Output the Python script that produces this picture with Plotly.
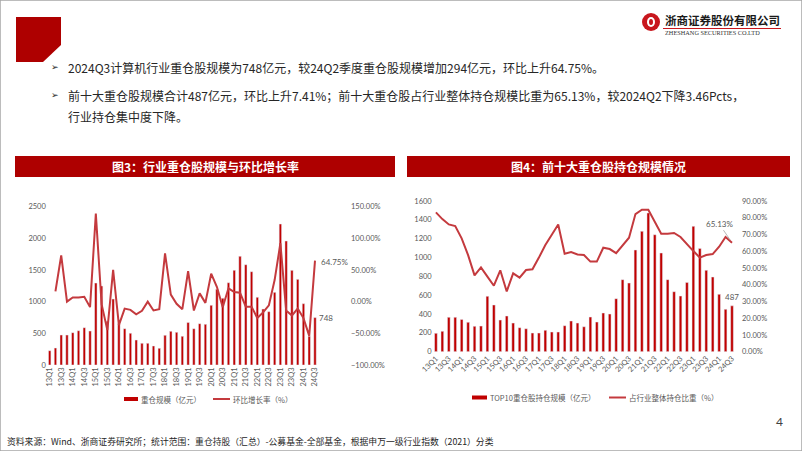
import plotly.graph_objects as go

W, H = 802, 451
def px(x): return x / W
def py(y): return 1 - y / H

quarters = ["13Q1","13Q2","13Q3","13Q4","14Q1","14Q2","14Q3","14Q4",
            "15Q1","15Q2","15Q3","15Q4","16Q1","16Q2","16Q3","16Q4",
            "17Q1","17Q2","17Q3","17Q4","18Q1","18Q2","18Q3","18Q4",
            "19Q1","19Q2","19Q3","19Q4","20Q1","20Q2","20Q3","20Q4",
            "21Q1","21Q2","21Q3","21Q4","22Q1","22Q2","22Q3","22Q4",
            "23Q1","23Q2","23Q3","23Q4","24Q1","24Q2","24Q3"]
tick_labels = quarters[::2]

# Fig 3: industry heavy-holding scale (亿元) and QoQ growth (%)
scale_total = [226,268,473,473,510,541,589,536,1293,1246,690,1041,650,573,500,394,
               342,342,300,263,468,531,515,452,670,573,652,641,941,1194,1052,1298,
               1493,1714,1582,1472,1068,883,841,1146,2224,1956,1493,1351,967,454,748]
growth_qoq = [None,16,73,0,6.5,6.5,7.6,-8.7,139,-4,-45,50,-37,-11,-13,-20,
              -14.6,0,-14,-12,76,11,-3.5,-12,48,-14,13,-2,44,23,-9,21,
              15,14,-8,-8,-26,-17,-6,34,92,-14,-22,-11,-26,-54,64.75]

# Fig 4: TOP10 holdings scale (亿元) and share of industry (%)
top10_scale = [195,216,365,365,343,312,269,272,588,496,336,379,304,255,244,198,
               198,227,209,209,276,326,304,265,368,315,411,400,563,765,729,1080,
               1278,1473,1242,1048,765,637,591,736,1331,1097,864,793,609,450,487]
top10_share = [83.2,79.2,76,75,67.7,57.7,45.6,50.4,44.8,39.4,48.6,36,46.8,44.2,48.8,49.2,
               56.2,63.7,69.9,76,58.5,59.5,58.1,57.7,53.8,53.8,62.1,61.3,58.9,63.7,68.1,82.2,
               84.8,84.8,77.7,70.5,70.5,70.9,68.5,64.1,60.1,56.2,57.7,58.3,62.7,68.5,65.13]

BAR = "#C00000"
LINE = "#C43A3E"
HEAD = "#AE0000"
TICK = "#595959"
CJK = "Noto Sans CJK SC"
NUM = "Lato"

fig = go.Figure()
fig.add_trace(go.Bar(x=quarters, y=scale_total, marker_color=BAR, name="重仓规模（亿元）",
                     xaxis="x", yaxis="y", showlegend=False))
fig.add_trace(go.Scatter(x=quarters, y=growth_qoq, mode="lines", line=dict(color=LINE, width=2),
                         name="环比增长率（%）", xaxis="x", yaxis="y2", showlegend=False))
fig.add_trace(go.Bar(x=quarters, y=top10_scale, marker_color=BAR, name="TOP10重仓股持仓规模（亿元）",
                     xaxis="x2", yaxis="y3", showlegend=False))
fig.add_trace(go.Scatter(x=quarters, y=top10_share, mode="lines", line=dict(color=LINE, width=2),
                         name="占行业整体持仓比重（%）", xaxis="x2", yaxis="y4", showlegend=False))

tf = dict(family=NUM, size=7.5, color=TICK)
common_x = dict(type="category", tickvals=tick_labels, showgrid=False, zeroline=False,
                showline=False, ticks="", tickfont=tf, automargin=False)
common_y = dict(showgrid=False, zeroline=False, showline=False, ticks="", tickfont=tf, automargin=False)

fig.update_layout(
    width=W, height=H, margin=dict(l=0, r=0, t=0, b=0),
    paper_bgcolor="white", plot_bgcolor="white", bargap=0.58,
    font=dict(family=CJK, color=TICK),
    xaxis=dict(common_x, domain=[px(46.8), px(350)], anchor="y", tickangle=-90),
    yaxis=dict(common_y, domain=[py(365), py(206.5)], anchor="x", range=[0, 2500], dtick=500),
    yaxis2=dict(common_y, overlaying="y", side="right", anchor="x", range=[-100, 150], dtick=50,
                tickformat=".2f", ticksuffix="%"),
    xaxis2=dict(common_x, domain=[px(432.7), px(741)], anchor="y3", tickangle=-45),
    yaxis3=dict(common_y, domain=[py(351.7), py(201)], anchor="x2", range=[0, 1600], dtick=200),
    yaxis4=dict(common_y, overlaying="y3", side="right", anchor="x2", range=[0, 90], dtick=10,
                tickformat=".2f", ticksuffix="%"),
)

shapes = []
ann = []
# slide border
shapes.append(dict(type="rect", xref="paper", yref="paper", x0=0, y0=0, x1=1, y1=1,
                   line=dict(color="#A6A6A6", width=1.5), fillcolor="rgba(0,0,0,0)"))
# red corner block
path = "M {} {} L {} {} L {} {} L {} {} L {} {} Z".format(
    px(16), py(17), px(61), py(17), px(61), py(45), px(43), py(62), px(16), py(62))
shapes.append(dict(type="path", xref="paper", yref="paper", path=path, fillcolor=HEAD, line=dict(width=0)))
# logo emblem
shapes.append(dict(type="circle", xref="paper", yref="paper", x0=px(642), x1=px(660), y0=py(31), y1=py(13),
                   fillcolor="#C8161D", line=dict(width=0)))
shapes.append(dict(type="circle", xref="paper", yref="paper", x0=px(647), x1=px(655), y0=py(27), y1=py(17),
                   fillcolor="white", line=dict(width=0)))
shapes.append(dict(type="circle", xref="paper", yref="paper", x0=px(649), x1=px(653), y0=py(25), y1=py(19),
                   fillcolor="#C8161D", line=dict(width=0)))
shapes.append(dict(type="line", xref="paper", yref="paper", x0=px(663), x1=px(781), y0=py(28.5), y1=py(28.5),
                   line=dict(color="#C8161D", width=1)))
ann.append(dict(x=px(663), y=py(20), xref="paper", yref="paper", xanchor="left", yanchor="middle",
                text="<b>浙商证券股份有限公司</b>", showarrow=False,
                font=dict(family=CJK, size=11.5, color="#1a1a1a")))
ann.append(dict(x=px(663), y=py(33), xref="paper", yref="paper", xanchor="left", yanchor="middle",
                text="ZHESHANG SECURITIES CO.LTD", showarrow=False,
                font=dict(family="Liberation Serif", size=6.3, color="#333333")))

# bullets
bullets = [
    (67, "2024Q3计算机行业重仓股规模为748亿元，较24Q2季度重仓股规模增加294亿元，环比上升64.75%。", True),
    (95, "前十大重仓股规模合计487亿元，环比上升7.41%；前十大重仓股占行业整体持仓规模比重为65.13%，较2024Q2下降3.46Pcts，", True),
    (117, "行业持仓集中度下降。", False),
]
for yy, t, mark in bullets:
    if mark:
        ann.append(dict(x=px(49), y=py(yy), xref="paper", yref="paper", xanchor="left", yanchor="middle",
                        text="➢", showarrow=False, font=dict(family="DejaVu Sans", size=9, color="#262626")))
    ann.append(dict(x=px(66), y=py(yy), xref="paper", yref="paper", xanchor="left", yanchor="middle",
                    text=t, showarrow=False, font=dict(family=CJK, size=12, color="#262626")))

# chart header bars
for x0, x1, t in [(15, 395, "图3：行业重仓股规模与环比增长率"), (407, 790, "图4：前十大重仓股持仓规模情况")]:
    shapes.append(dict(type="rect", xref="paper", yref="paper", x0=px(x0), x1=px(x1), y0=py(177), y1=py(156),
                       fillcolor=HEAD, line=dict(width=0)))
    ann.append(dict(x=px((x0 + x1) / 2), y=py(166.5), xref="paper", yref="paper", xanchor="center",
                    yanchor="middle", text="<b>" + t + "</b>", showarrow=False,
                    font=dict(family=CJK, size=12, color="white")))

# custom legends
lf = dict(family=CJK, size=7.5, color=TICK)
def legend_bar(x0, x1, y, text):
    shapes.append(dict(type="rect", xref="paper", yref="paper", x0=px(x0), x1=px(x1), y0=py(y + 2), y1=py(y - 2),
                       fillcolor=BAR, line=dict(width=0)))
    ann.append(dict(x=px(x1 + 1), y=py(y), xref="paper", yref="paper", xanchor="left", yanchor="middle",
                    text=text, showarrow=False, font=lf))
def legend_line(x0, x1, y, text):
    shapes.append(dict(type="line", xref="paper", yref="paper", x0=px(x0), x1=px(x1), y0=py(y), y1=py(y),
                       line=dict(color=LINE, width=2)))
    ann.append(dict(x=px(x1 + 1), y=py(y), xref="paper", yref="paper", xanchor="left", yanchor="middle",
                    text=text, showarrow=False, font=lf))
legend_bar(124, 138, 399, "重仓规模（亿元）")
legend_line(213, 230, 399, "环比增长率（%）")
legend_bar(472, 487, 397.5, "TOP10重仓股持仓规模（亿元）")
legend_line(609, 626, 397.5, "占行业整体持仓比重（%）")

# data labels
lab = dict(family=NUM, size=8, color=TICK)
ann.append(dict(x=quarters[-1], y=scale_total[-1], xref="x", yref="y", xanchor="left", yanchor="middle",
                xshift=2, text=str(scale_total[-1]), showarrow=False, font=lab))
ann.append(dict(x=quarters[-1], y=growth_qoq[-1], xref="x", yref="y2", xanchor="left", yanchor="middle",
                xshift=4, yshift=-1, text="{:.2f}%".format(growth_qoq[-1]), showarrow=False, font=lab))
ann.append(dict(x=quarters[-1], y=top10_scale[-1], xref="x2", yref="y3", xanchor="center", yanchor="bottom",
                yshift=2, text=str(top10_scale[-1]), showarrow=False, font=lab))
ann.append(dict(x=quarters[-1], y=top10_share[-1], xref="x2", yref="y4", text="{:.2f}%".format(top10_share[-1]),
                showarrow=True, arrowhead=0, arrowwidth=0.8, arrowcolor="#A6A6A6", ax=-13, ay=-19,
                standoff=3, font=lab))

# footer + page number
ann.append(dict(x=px(5), y=py(441), xref="paper", yref="paper", xanchor="left", yanchor="middle",
                text="资料来源：Wind、浙商证券研究所；统计范围：重仓持股（汇总）-公募基金-全部基金，根据申万一级行业指数（2021）分类",
                showarrow=False, font=dict(family=CJK, size=8.8, color="#262626")))
ann.append(dict(x=px(779), y=py(421), xref="paper", yref="paper", xanchor="center", yanchor="middle",
                text="4", showarrow=False, font=dict(family=NUM, size=12, color="#404040")))

fig.update_layout(shapes=shapes, annotations=ann)
fig.write_html("out.html")
